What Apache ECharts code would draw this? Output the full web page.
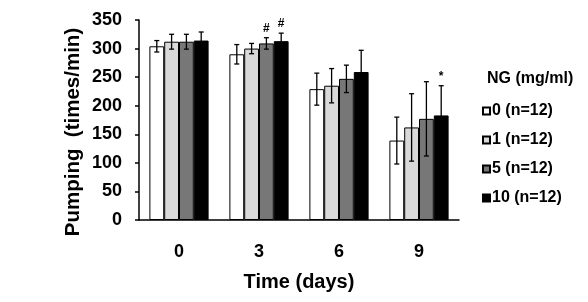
<!DOCTYPE html>
<html>
<head>
<meta charset="utf-8">
<script src="https://cdn.jsdelivr.net/npm/echarts@6/dist/echarts.min.js"></script>
<style>
  html, body { margin: 0; padding: 0; background: #fff; }
  #chart { width: 588px; height: 302px; }
</style>
</head>
<body>
<div id="chart"></div>
<script>
// days on the x axis
const days = ['0', '3', '6', '9']
const groupNames = ['0 (n=12)', '1 (n=12)', '5 (n=12)', '10 (n=12)']
const groupColors = ['#ffffff', '#d9d9d9', '#777777', '#000000']

// mean pumping rate per group, one value per day
const mean0 = [304, 290, 229, 139]
const mean1 = [312, 300, 235, 162]
const mean5 = [312, 309, 247, 177]
const mean10 = [314, 313, 259, 183]

// error bar half-length (SD)
const err0 = [10, 17, 28, 41]
const err1 = [13, 9, 30, 59]
const err5 = [13, 10, 24, 65]
const err10 = [15, 14, 38, 52]

// significance marks: [day index, group index, symbol]
const marks = [[1, 2, '#'], [1, 3, '#'], [3, 3, '*']]

const yTicks = { min: 0, max: 350, interval: 50 }

const means = [mean0, mean1, mean5, mean10]
const errs = [err0, err1, err5, err10]
const GAP = 0.26

const chart = echarts.init(document.getElementById('chart'))

// x centre of bar k inside category cat
const barX = (api, cat, k) => {
  const center = api.coord([cat, 0])[0]
  const band = api.size([1, 0])[0]
  const w = band * (1 - GAP) / 4
  return center + (k - 1.5) * w
}

const barSeries = groupNames.map((name, k) => ({
  name,
  type: 'bar',
  data: means[k],
  barGap: '0%',
  barCategoryGap: GAP * 100 + '%',
  itemStyle: { color: groupColors[k], borderColor: '#000', borderWidth: 1 },
  z: 2
}))

const errSeries = groupNames.map((name, k) => ({
  type: 'custom',
  z: 5,
  silent: true,
  data: means[k].map((m, i) => [i, m - errs[k][i], m + errs[k][i]]),
  renderItem: (params, api) => {
    const cat = api.value(0)
    const x = barX(api, cat, k)
    const yLo = api.coord([cat, api.value(1)])[1]
    const yHi = api.coord([cat, api.value(2)])[1]
    const cap = 2.5
    const style = { stroke: '#000', lineWidth: 1.3 }
    return {
      type: 'group',
      children: [
        { type: 'line', shape: { x1: x, y1: yLo, x2: x, y2: yHi }, style },
        { type: 'line', shape: { x1: x - cap, y1: yHi, x2: x + cap, y2: yHi }, style },
        { type: 'line', shape: { x1: x - cap, y1: yLo, x2: x + cap, y2: yLo }, style }
      ]
    }
  }
}))

const markSeries = {
  type: 'custom',
  z: 6,
  silent: true,
  data: marks.map(m => [m[0], means[m[1]][m[0]] + errs[m[1]][m[0]]]),
  renderItem: (params, api) => {
    const m = marks[params.dataIndex]
    const x = barX(api, m[0], m[1])
    const y = api.coord([m[0], api.value(1)])[1]
    return {
      type: 'text',
      style: {
        text: m[2],
        x, y: y - 3,
        align: 'center',
        verticalAlign: 'bottom',
        font: 'bold 12px "Liberation Sans", Arial, sans-serif',
        fill: '#000'
      }
    }
  }
}

const font = '"Liberation Sans", Arial, sans-serif'

const option = {
  animation: false,
  backgroundColor: '#fff',
  grid: { left: 139, right: 129, top: 20, bottom: 82 },
  legend: {
    data: groupNames,
    orient: 'vertical',
    left: 477,
    top: 98,
    itemWidth: 7,
    itemHeight: 7,
    itemGap: 13,
    icon: 'rect',
    textStyle: { fontFamily: font, fontWeight: 'bold', fontSize: 16, color: '#000', padding: [0, 0, 0, -3] }
  },
  graphic: [
    {
      type: 'text',
      left: 487,
      top: 71,
      style: { text: 'NG (mg/ml)', font: 'bold 16px ' + font, fill: '#000' }
    },
    {
      type: 'text',
      x: 73,
      y: 132,
      rotation: Math.PI / 2,
      style: {
        text: 'Pumping  (times/min)',
        font: 'bold 20.5px ' + font,
        fill: '#000',
        align: 'center',
        verticalAlign: 'middle'
      }
    }
  ],
  xAxis: {
    type: 'category',
    data: days,
    name: 'Time (days)',
    nameLocation: 'middle',
    nameGap: 52,
    nameTextStyle: { fontFamily: font, fontWeight: 'bold', fontSize: 20, color: '#000' },
    axisLine: { lineStyle: { color: '#000', width: 1.5 } },
    axisTick: { length: 4, lineStyle: { color: '#000', width: 1.5 } },
    axisLabel: { fontFamily: font, fontWeight: 'bold', fontSize: 18, color: '#000', margin: 23 }
  },
  yAxis: {
    type: 'value',
    min: yTicks.min,
    max: yTicks.max,
    interval: yTicks.interval,
    axisLine: { show: true, lineStyle: { color: '#000', width: 1.5 } },
    axisTick: { show: true, length: 4, lineStyle: { color: '#000', width: 1.5 } },
    axisLabel: { fontFamily: font, fontWeight: 'bold', fontSize: 18, color: '#000', margin: 17 },
    splitLine: { show: false }
  },
  series: [...barSeries, ...errSeries, markSeries]
}

chart.setOption(option)
</script>
</body>
</html>
